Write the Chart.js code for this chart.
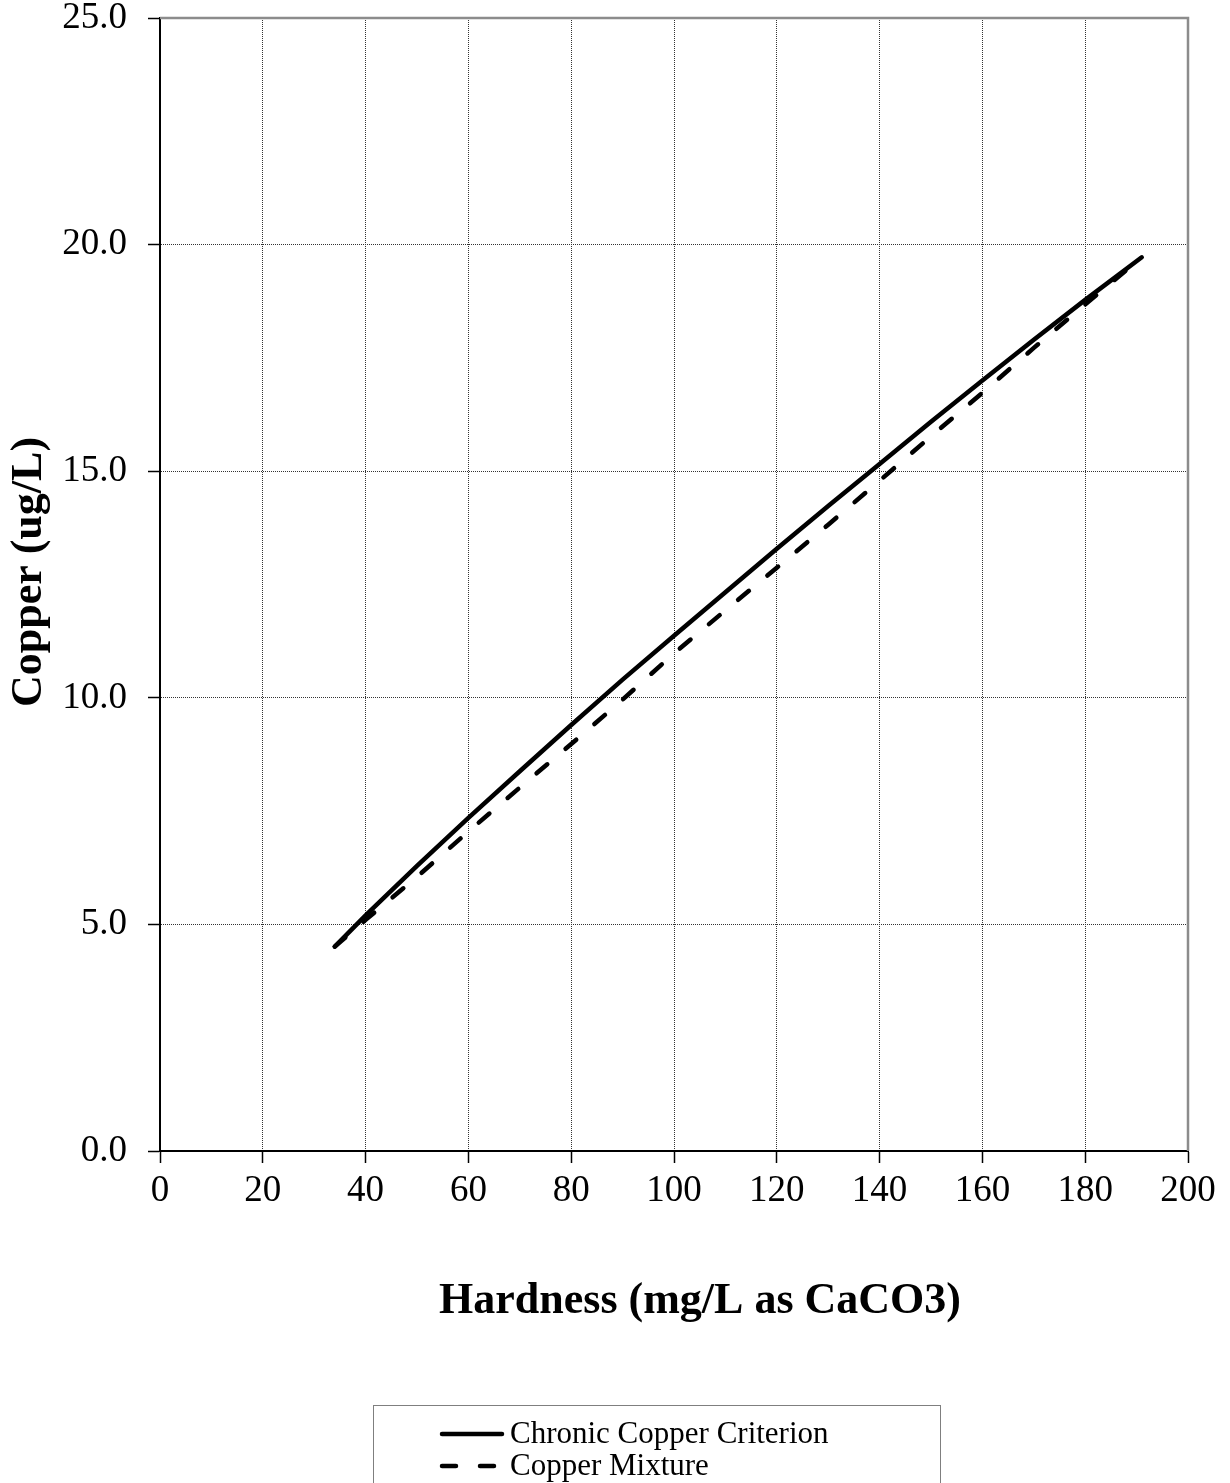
<!DOCTYPE html>
<html lang="en">
<head>
    <meta charset="UTF-8">
    <title>Copper vs Hardness</title>
    <script src="https://cdn.jsdelivr.net/npm/chart.js"></script>
    <style>
        body { margin: 0; background: #fff; }
        #wrap { width: 1230px; height: 1483px; position: relative; }
    </style>
</head>
<body>
    <div id="wrap"><canvas id="copperChart"></canvas></div>

    <script>
        // values
        const hardness = [34, 40, 50, 60, 70, 80, 90, 100, 110, 120, 130, 140, 150, 160, 170, 180, 191];
        const chronicCriterion = [4.51, 5.20, 6.29, 7.35, 8.38, 9.40, 10.40, 11.37, 12.33, 13.29, 14.23, 15.16, 16.09, 17.00, 17.90, 18.78, 19.72];
        const copperMixture = [4.51, 5.10, 6.05, 7.05, 8.02, 8.98, 9.96, 10.98, 11.93, 12.87, 13.82, 14.79, 15.77, 16.73, 17.72, 18.68, 19.72];
        const seriesNames = ['Chronic Copper Criterion', 'Copper Mixture'];
        const xTitle = 'Hardness (mg/L as CaCO3)';
        const yTitle = 'Copper (ug/L)';

        const serif = '"Liberation Serif", "Times New Roman", serif';

        function toPoints(ys) {
            return hardness.map((h, i) => ({ x: h, y: ys[i] }));
        }

        // axis titles, top/right frame and the boxed legend
        const extras = {
            id: 'extras',
            afterDraw(chart) {
                const ctx = chart.ctx;
                const area = chart.chartArea;
                ctx.save();

                // grey frame on top and right
                ctx.strokeStyle = '#8c8c8c';
                ctx.lineWidth = 2.5;
                ctx.beginPath();
                ctx.moveTo(area.left, area.top);
                ctx.lineTo(area.right, area.top);
                ctx.lineTo(area.right, area.bottom);
                ctx.stroke();

                ctx.fillStyle = '#000';
                ctx.font = 'bold 44px ' + serif;
                ctx.textAlign = 'center';
                ctx.textBaseline = 'middle';
                ctx.fillText(xTitle, 700, 1302);

                ctx.save();
                ctx.translate(30, 572);
                ctx.rotate(-Math.PI / 2);
                ctx.fillText(yTitle, 0, 0);
                ctx.restore();

                // legend box
                ctx.strokeStyle = '#7f7f7f';
                ctx.lineWidth = 1;
                ctx.strokeRect(373.5, 1405.5, 567, 120);
                const rows = [1434, 1466];
                ctx.font = '31px ' + serif;
                ctx.textAlign = 'left';
                ctx.textBaseline = 'middle';
                chart.data.datasets.forEach((ds, i) => {
                    ctx.strokeStyle = ds.borderColor;
                    ctx.lineWidth = ds.borderWidth;
                    ctx.lineCap = 'round';
                    ctx.setLineDash(ds.borderDash || []);
                    ctx.beginPath();
                    ctx.moveTo(442, rows[i]);
                    ctx.lineTo(502, rows[i]);
                    ctx.stroke();
                    ctx.setLineDash([]);
                    ctx.fillText(ds.label, 510, rows[i] + 1);
                });
                ctx.restore();
            }
        };

        const ctx = document.getElementById('copperChart').getContext('2d');
        const copperChart = new Chart(ctx, {
            type: 'line',
            data: {
                datasets: [
                    {
                        label: seriesNames[0],
                        data: toPoints(chronicCriterion),
                        borderColor: '#000',
                        borderWidth: 4.5,
                        borderCapStyle: 'round',
                        pointRadius: 0,
                        tension: 0
                    },
                    {
                        label: seriesNames[1],
                        data: toPoints(copperMixture),
                        borderColor: '#000',
                        borderWidth: 4.5,
                        borderDash: [14, 24],
                        borderCapStyle: 'round',
                        pointRadius: 0,
                        tension: 0
                    }
                ]
            },
            options: {
                responsive: true,
                maintainAspectRatio: false,
                animation: false,
                layout: { padding: { top: 18, right: 42, left: 0, bottom: 0 } },
                plugins: {
                    legend: { display: false },
                    tooltip: { enabled: false }
                },
                scales: {
                    x: {
                        type: 'linear',
                        min: 0,
                        max: 200,
                        afterFit(scale) { scale.height = 332; },
                        ticks: {
                            stepSize: 20,
                            color: '#000',
                            padding: 6,
                            font: { family: serif, size: 37 }
                        },
                        grid: { color: '#333', lineWidth: 1, tickLength: 12, tickColor: '#000', tickWidth: 1.5 },
                        border: { color: '#000', width: 2, dash: [1, 1] }
                    },
                    y: {
                        min: 0,
                        max: 25,
                        afterFit(scale) {
                            scale.width = 160;
                            scale.paddingTop = 0;
                            scale.paddingBottom = 0;
                        },
                        ticks: {
                            stepSize: 5,
                            color: '#000',
                            padding: 21,
                            font: { family: serif, size: 37 },
                            callback: v => v.toFixed(1)
                        },
                        grid: { color: '#333', lineWidth: 1, tickLength: 12, tickColor: '#000', tickWidth: 1.5 },
                        border: { color: '#000', width: 2, dash: [1, 1] }
                    }
                }
            },
            plugins: [extras]
        });
    </script>
</body>
</html>
